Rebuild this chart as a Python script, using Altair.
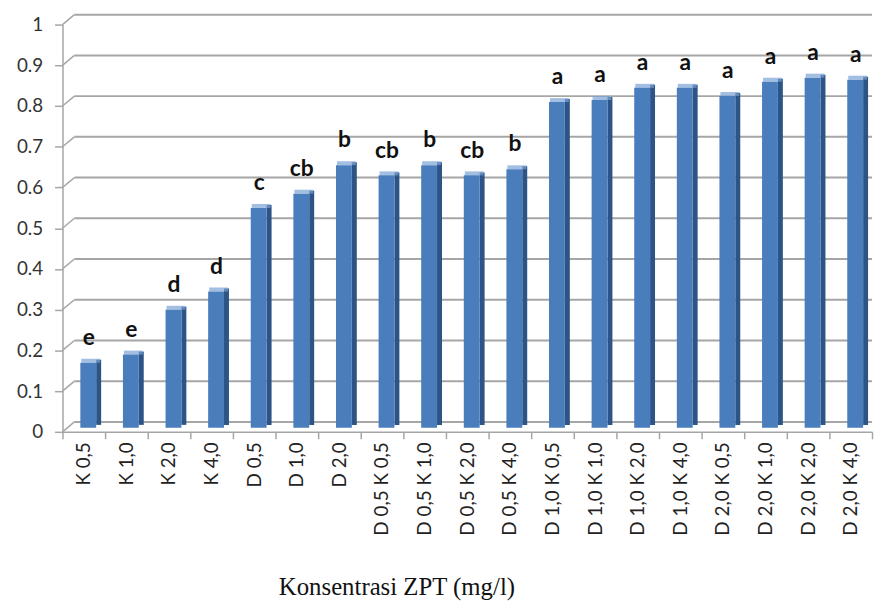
import altair as alt
import pandas as pd

categories = ["K 0,5", "K 1,0", "K 2,0", "K 4,0", "D 0,5", "D 1,0", "D 2,0",
              "D 0,5 K 0,5", "D 0,5 K 1,0", "D 0,5 K 2,0", "D 0,5 K 4,0",
              "D 1,0 K 0,5", "D 1,0 K 1,0", "D 1,0 K 2,0", "D 1,0 K 4,0",
              "D 2,0 K 0,5", "D 2,0 K 1,0", "D 2,0 K 2,0", "D 2,0 K 4,0"]
values = [0.16, 0.18, 0.29, 0.335, 0.54, 0.575, 0.645,
          0.62, 0.645, 0.62, 0.635,
          0.80, 0.805, 0.835, 0.835,
          0.815, 0.85, 0.86, 0.855]
letters = ["e", "e", "d", "d", "c", "cb", "b",
           "cb", "b", "cb", "b",
           "a", "a", "a", "a",
           "a", "a", "a", "a"]
y_ticks = [0, 0.1, 0.2, 0.3, 0.4, 0.5, 0.6, 0.7, 0.8, 0.9, 1.0]

df = pd.DataFrame({"cat": categories, "val": values, "lab": letters})
grid = pd.DataFrame({"v": y_ticks})

W, H = 817, 411
GRAY = "#a6a6a6"

x_enc = alt.X("cat:N", sort=categories,
              scale=alt.Scale(paddingInner=0, paddingOuter=0),
              axis=alt.Axis(labelAngle=-90, labelFont="Lato", labelFontSize=19,
                            labelColor="#222", domainColor=GRAY, domainWidth=1.5,
                            tickColor=GRAY, tickSize=7, tickWidth=1.5, tickBand="extent",
                            labelPadding=3,
                            title="Konsentrasi ZPT (mg/l)", titleFont="Liberation Serif",
                            titleFontSize=25, titleFontWeight="normal", titleColor="#111",
                            titleX=337, titleY=164, titleAlign="center",
                            titleBaseline="alphabetic"))
y_scale = alt.Scale(domain=[0, 1], nice=False)
y_enc = alt.Y("val:Q", scale=y_scale,
              axis=alt.Axis(values=y_ticks, format="~g", grid=False, labelFont="Lato",
                            labelFontSize=19, labelColor="#333", domainColor=GRAY,
                            domainWidth=1.5, tickColor=GRAY, tickSize=8, tickWidth=1.5,
                            labelPadding=12, title=None))

back_grid = alt.Chart(grid).mark_rule(color=GRAY, strokeWidth=2, yOffset=-10).encode(
    y=alt.Y("v:Q", scale=y_scale), x=alt.value(12), x2=alt.value(W))
diag = alt.Chart(grid).mark_rule(color=GRAY, strokeWidth=1.5, y2Offset=-10).encode(
    y=alt.Y("v:Q", scale=y_scale), y2=alt.Y2("v"), x=alt.value(0), x2=alt.value(12))

side = alt.Chart(df).mark_bar(color="#2d5486", width=5, xOffset=15,
                              yOffset=-7, y2Offset=-5).encode(x=x_enc, y=y_enc)
top = alt.Chart(df).mark_tick(color="#7aa3d6", thickness=4, size=19, xOffset=7,
                              yOffset=-6).encode(x=x_enc, y=y_enc)
front = alt.Chart(df).mark_bar(color="#4a7dbb", width=16, xOffset=4.5,
                               yOffset=-4, y2Offset=-4).encode(x=x_enc, y=y_enc)
text = alt.Chart(df).mark_text(font="Lato", fontSize=23, fontWeight="bold",
                               color="#111", baseline="alphabetic", xOffset=5,
                               yOffset=-22).encode(x=x_enc, y=y_enc, text="lab:N")

chart = alt.layer(back_grid, diag, side, top, front, text).properties(
    width=W, height=H,
    autosize=alt.AutoSizeParams(type="none"),
    padding={"left": 55, "top": 14, "right": 4, "bottom": 168},
).configure_view(stroke=None)

chart.save("out.html", embed_options={"renderer": "svg", "actions": False})
